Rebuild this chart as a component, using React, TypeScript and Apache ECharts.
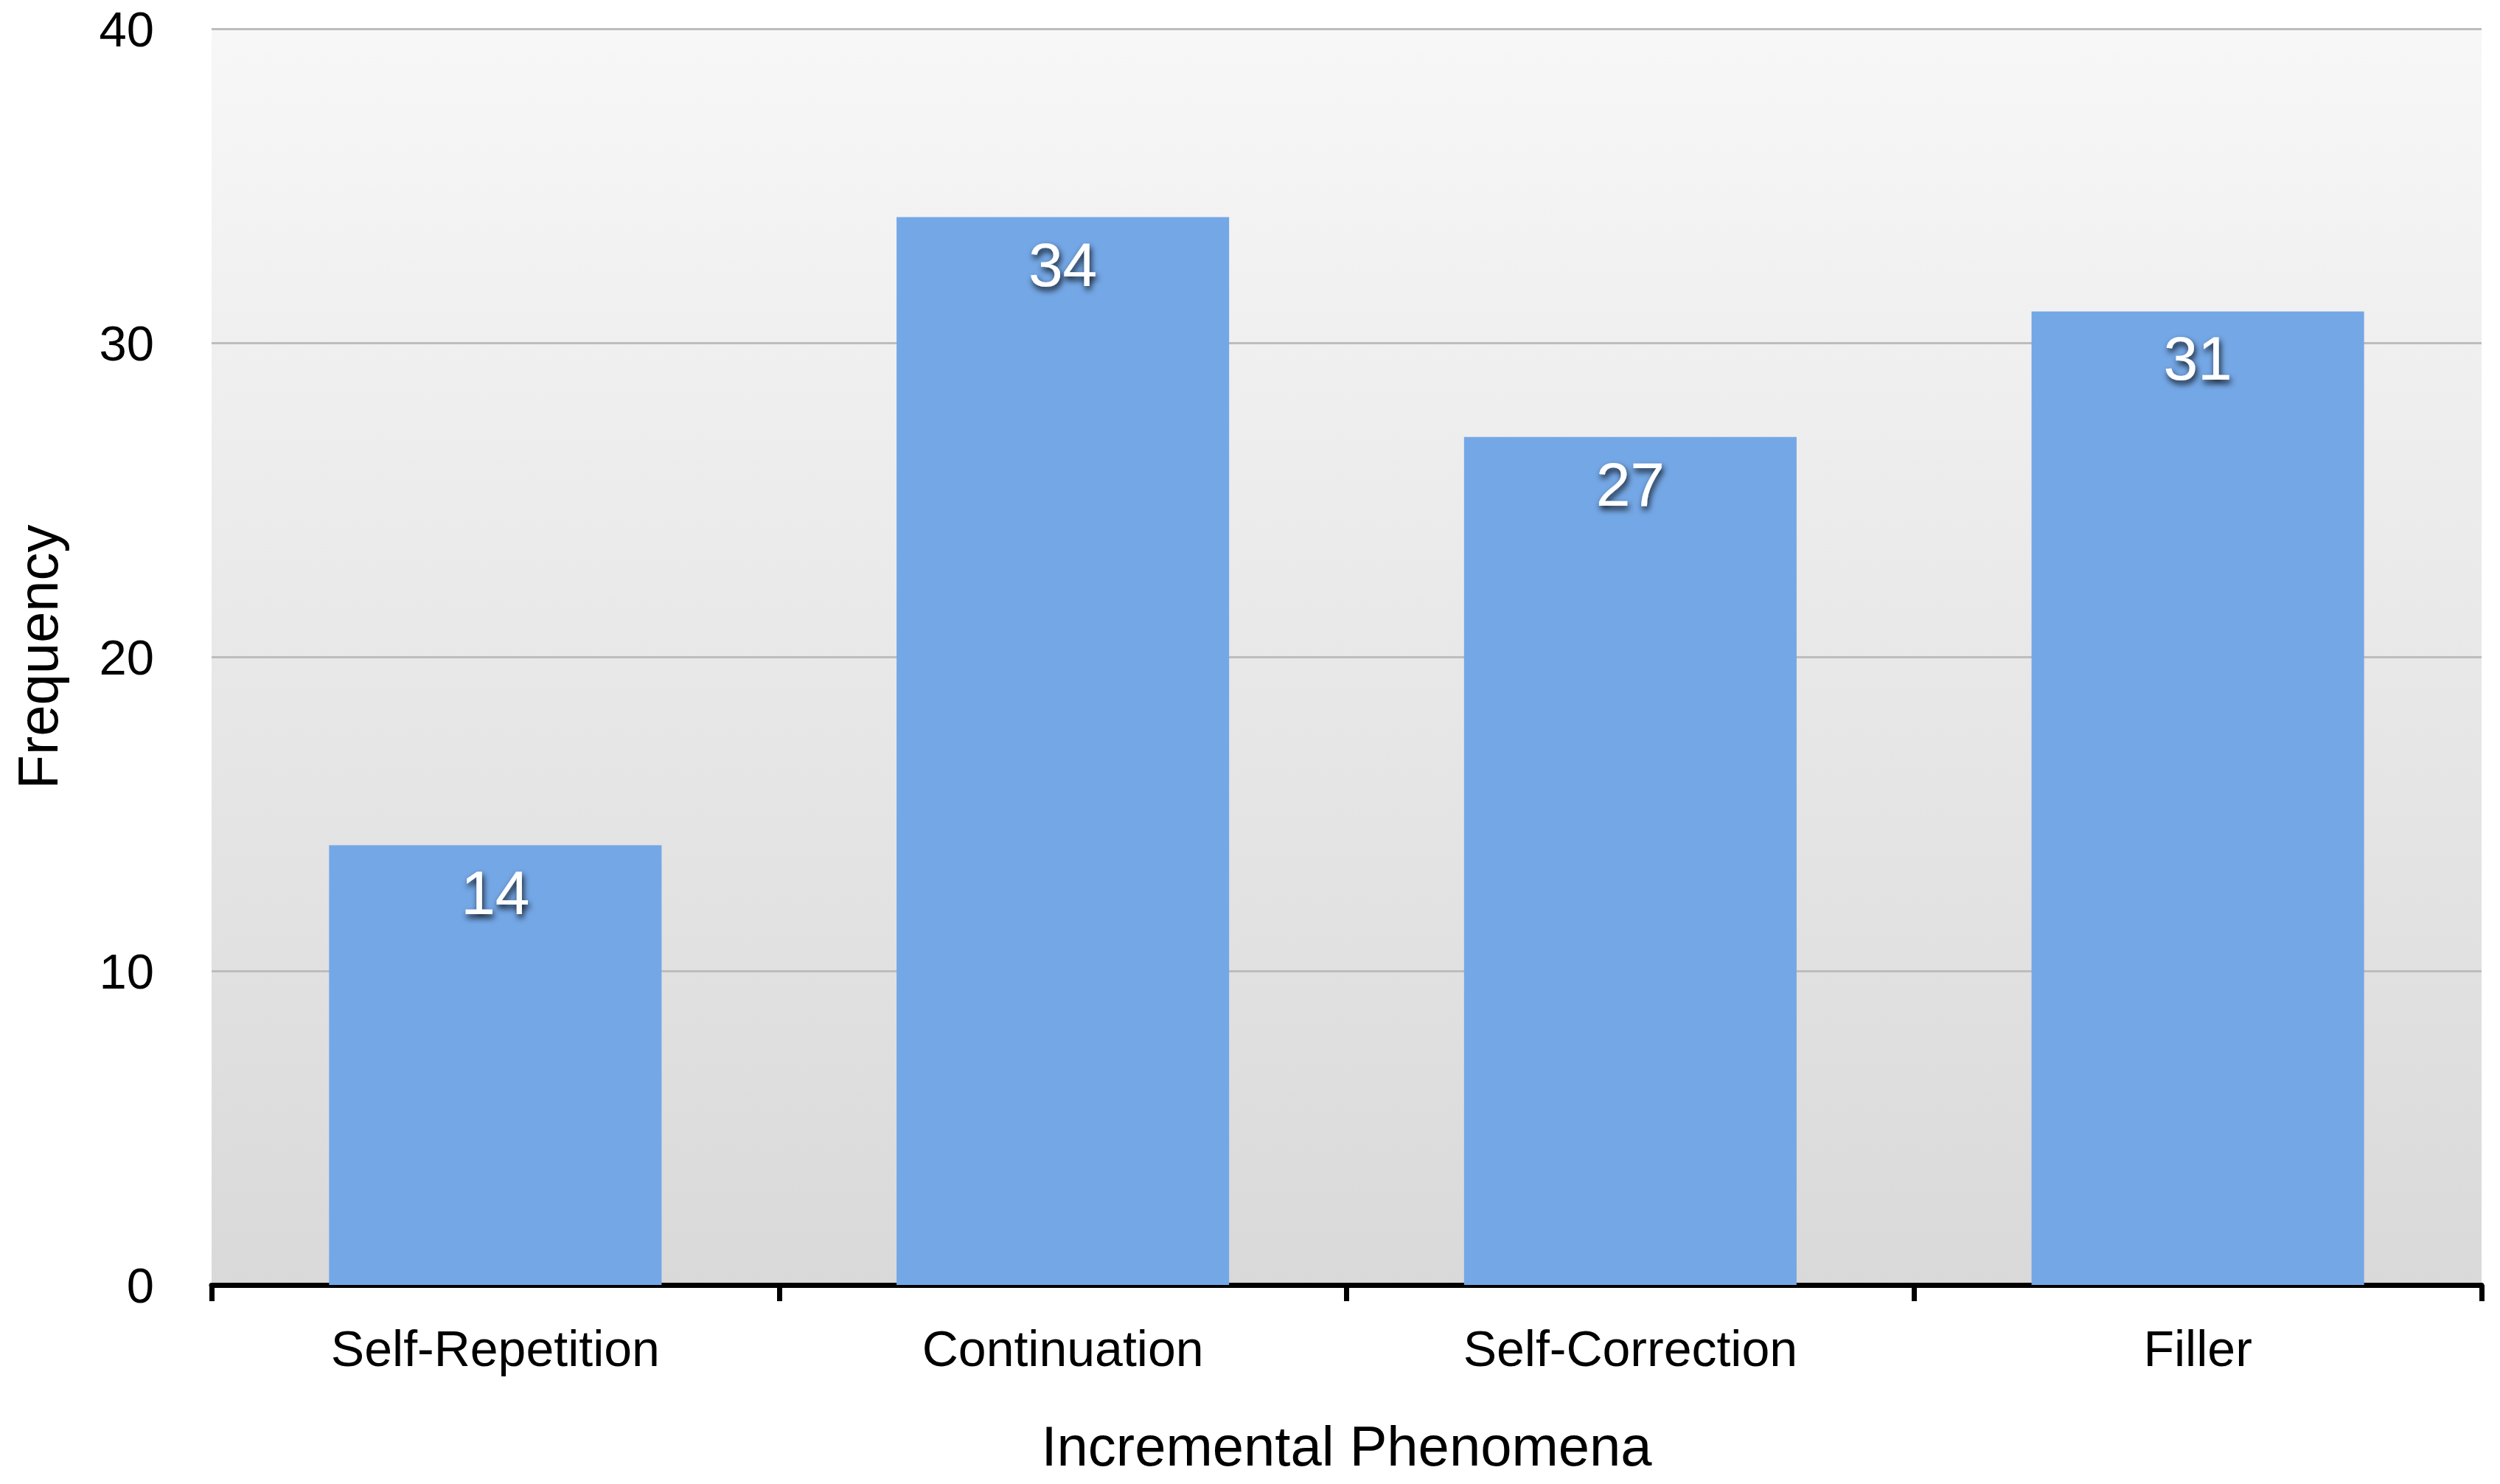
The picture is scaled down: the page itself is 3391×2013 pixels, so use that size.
import React, { useEffect, useRef } from "react";
import * as echarts from "echarts";

const categories = ["Self-Repetition", "Continuation", "Self-Correction", "Filler"];
const frequencies = [14, 34, 27, 31];
const yTicks = [0, 10, 20, 30, 40];
const xTitle = "Incremental Phenomena";
const yTitle = "Frequency";

const FONT = "'Liberation Sans', Arial, Helvetica, sans-serif";

export default function App() {
  const ref = useRef<HTMLDivElement>(null);
  useEffect(() => {
    document.body.style.margin = "0";
    const chart = echarts.init(ref.current!, null, { renderer: "svg" });
    chart.setOption({
      animation: false,
      backgroundColor: "#ffffff",
      textStyle: { fontFamily: FONT },
      grid: {
        left: 287,
        right: 25,
        top: 39,
        bottom: 270,
        show: true,
        borderWidth: 0,
        backgroundColor: new echarts.graphic.LinearGradient(0, 0, 0, 1, [
          { offset: 0, color: "#f7f7f7" },
          { offset: 1, color: "#d9d9d9" },
        ]),
      },
      xAxis: {
        type: "category",
        data: categories,
        name: xTitle,
        nameLocation: "middle",
        nameGap: 180,
        nameTextStyle: { fontSize: 76, color: "#000", fontFamily: FONT },
        axisLine: { show: true, lineStyle: { color: "#000", width: 7 } },
        axisTick: { show: true, length: 22, lineStyle: { color: "#000", width: 7 } },
        axisLabel: { fontSize: 68, color: "#000", margin: 52, fontFamily: FONT },
        splitLine: { show: false },
      },
      yAxis: {
        type: "value",
        min: yTicks[0],
        max: yTicks[yTicks.length - 1],
        interval: 10,
        name: yTitle,
        nameLocation: "middle",
        nameGap: 198,
        nameRotate: 90,
        nameTextStyle: { fontSize: 76, color: "#000", fontFamily: FONT },
        axisLine: { show: false },
        axisTick: { show: false },
        axisLabel: { fontSize: 67, color: "#000", margin: 78, fontFamily: FONT },
        splitLine: { show: true, lineStyle: { color: "#bdbdbd", width: 3 } },
      },
      series: [
        {
          type: "bar",
          data: frequencies,
          barCategoryGap: "41.4%",
          itemStyle: { color: "#74a7e6" },
          label: {
            show: true,
            position: "insideTop",
            distance: 22,
            fontSize: 84,
            color: "#ffffff",
            fontFamily: FONT,
            textShadowColor: "rgba(0,0,0,0.85)",
            textShadowBlur: 8,
            textShadowOffsetX: 2,
            textShadowOffsetY: 5,
          },
        },
      ],
    });
    return () => chart.dispose();
  }, []);
  return <div ref={ref} style={{ width: 3391, height: 2013 }} />;
}
